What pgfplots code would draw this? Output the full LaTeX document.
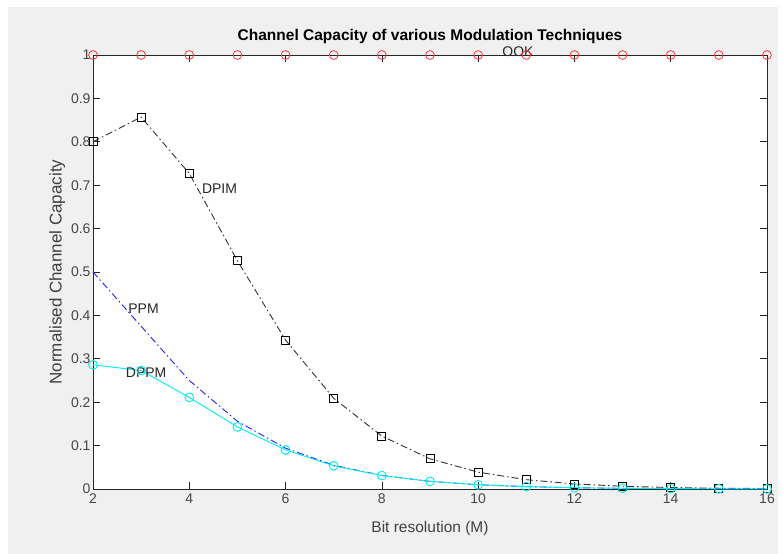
\documentclass[border=0pt]{standalone}
\usepackage{fontspec}
\setmainfont{Liberation Sans}
\usepackage{pgfplots}
\pgfplotsset{compat=1.18}
\definecolor{figgrey}{HTML}{F0F0F0}
\definecolor{axgrey}{HTML}{262626}
\definecolor{ookred}{HTML}{FF3535}
\definecolor{ppmblue}{HTML}{2020FF}
\definecolor{dppmcyan}{HTML}{00EEEE}
\tikzset{mdashdot/.style={dash pattern=on 7pt off 3pt on 1.5pt off 3pt}}

\begin{document}
\begin{tikzpicture}
% figure background: axis origin sits at (0,0); page runs from (-93,-65) to (689,489)
\fill[white] (-93pt,-65pt) rectangle (689pt,489pt);
\fill[figgrey] (-85pt,-65pt) rectangle (685pt,482pt);
\path[use as bounding box] (-93pt,-65pt) rectangle (689pt,489pt);
\begin{axis}[
    at={(0pt,0pt)}, anchor=south west,
    scale only axis,
    width=674pt, height=434pt,
    xmin=2, xmax=16, ymin=0, ymax=1,
    xtick={2,4,...,16},
    ytick={0,0.1,...,1},
    yticklabels={0,0.1,0.2,0.3,0.4,0.5,0.6,0.7,0.8,0.9,1},
    tick align=inside,
    major tick length=7pt,
    axis background/.style={fill=white},
    axis line style={axgrey, line width=0.7pt},
    every tick/.style={axgrey, line width=0.7pt},
    tick label style={font=\fontsize{14}{16}\selectfont, text=black!72},
    /pgf/number format/assume math mode=true,
    xticklabel style={yshift=-1pt},
    yticklabel style={xshift=1pt},
    title={\textbf{Channel Capacity of various Modulation Techniques}},
    title style={font=\fontsize{15.5}{18}\selectfont, at={(axis description cs:0.5,1.0)}, anchor=south, yshift=2pt},
    xlabel={Bit resolution (M)},
    ylabel={Normalised Channel Capacity},
    label style={text=black!75},
    xlabel style={font=\fontsize{15.5}{18}\selectfont, at={(axis description cs:0.5,-0.092)}, anchor=center},
    ylabel style={font=\fontsize{17}{19}\selectfont, at={(axis description cs:-0.053,0.5)}, anchor=center},
    clip=false,
]
% OOK
\addplot[only marks, mark=o, ookred, mark size=4.4pt, line width=0.8pt] coordinates {
(2,1) (3,1) (4,1) (5,1) (6,1) (7,1) (8,1) (9,1) (10,1) (11,1) (12,1) (13,1) (14,1) (15,1) (16,1)};
% DPIM
\addplot[black!80, line width=0.9pt, mdashdot, mark=square, mark size=4pt, mark options={solid, black, line width=0.8pt}] coordinates {
(2,0.800) (3,0.857) (4,0.727) (5,0.526) (6,0.343) (7,0.209) (8,0.122) (9,0.0695) (10,0.0388)
(11,0.0214) (12,0.0117) (13,0.0063) (14,0.0034) (15,0.0018) (16,0.0010)};
% PPM
\addplot[ppmblue, line width=0.9pt, mdashdot] coordinates {
(2,0.500) (3,0.375) (4,0.250) (5,0.156) (6,0.094) (7,0.0547) (8,0.0313) (9,0.0176) (10,0.0098)
(11,0.0054) (12,0.0029) (13,0.0016) (14,0.0009) (15,0.0005) (16,0.0002)};
% DPPM
\addplot[dppmcyan, line width=0.9pt, mark=o, mark size=4.4pt] coordinates {
(2,0.286) (3,0.273) (4,0.211) (5,0.143) (6,0.090) (7,0.0534) (8,0.0309) (9,0.0175) (10,0.0097)
(11,0.0054) (12,0.0029) (13,0.0016) (14,0.0009) (15,0.0005) (16,0.0002)};
\node[anchor=west, inner sep=0pt, font=\fontsize{14}{16}\selectfont, text=black!85] at (axis cs:10.5,1.007) {OOK};
\node[anchor=west, inner sep=0pt, font=\fontsize{14}{16}\selectfont, text=black!85] at (axis cs:4.26,0.691) {DPIM};
\node[anchor=west, inner sep=0pt, font=\fontsize{14}{16}\selectfont, text=black!85] at (axis cs:2.73,0.415) {PPM};
\node[anchor=west, inner sep=0pt, font=\fontsize{14}{16}\selectfont, text=black!85] at (axis cs:2.68,0.267) {DPPM};
\end{axis}
\end{tikzpicture}
\end{document}
